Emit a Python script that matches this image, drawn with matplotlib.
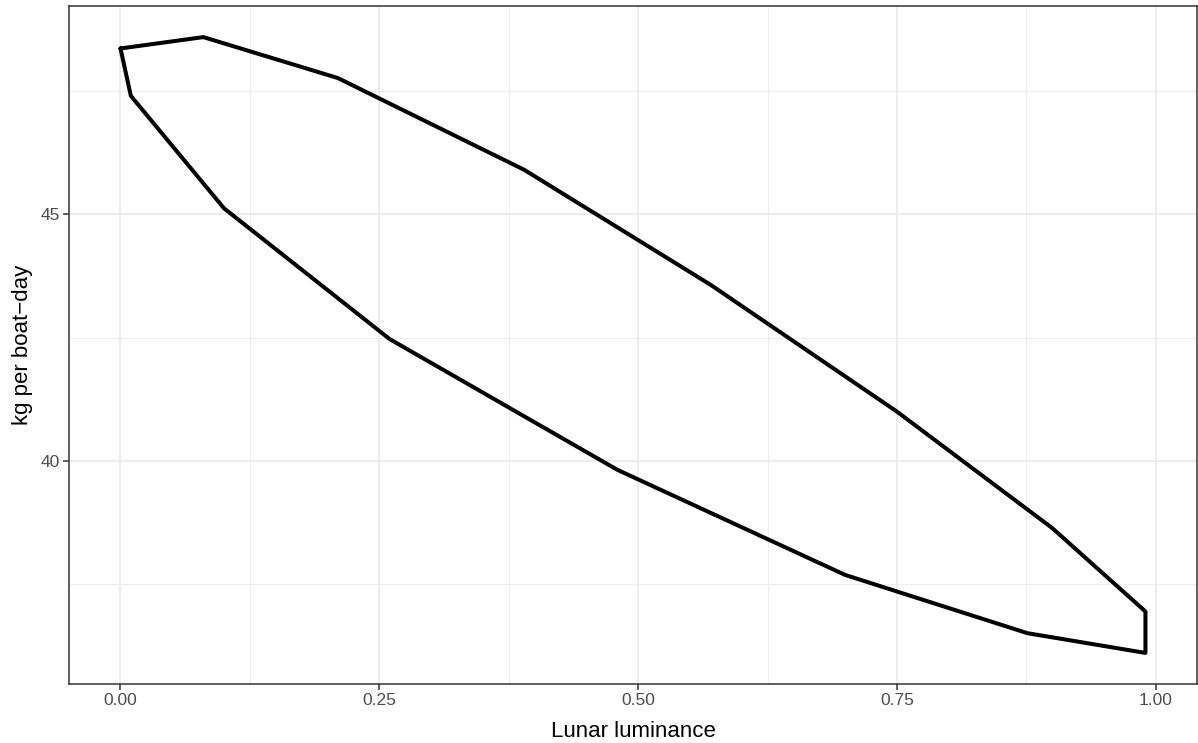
import numpy as np
import matplotlib
matplotlib.use('Agg')
import matplotlib.pyplot as plt
from matplotlib.ticker import FixedLocator

plt.rcParams['font.family'] = ['Liberation Sans', 'DejaVu Sans']

# ── Data: closed outline, upper edge then lower edge back ─────
lunar = [0.00, 0.08, 0.21, 0.39, 0.57, 0.75, 0.90, 0.99,
         0.99, 0.876, 0.70, 0.48, 0.26, 0.10, 0.01, 0.00]
kg_day = [48.36, 48.59, 47.76, 45.90, 43.57, 41.00, 38.64, 36.95,
          36.11, 36.51, 37.69, 39.82, 42.47, 45.12, 47.40, 48.36]

x_ticks = [0.00, 0.25, 0.50, 0.75, 1.00]
x_tick_labels = ['0.00', '0.25', '0.50', '0.75', '1.00']
y_ticks = [40, 45]

# ── Figure ────────────────────────────────────────────────────
fig = plt.figure(figsize=(11.98, 7.43), dpi=100)
ax = fig.add_axes([0.0578, 0.0798, 0.9411, 0.9117])

ax.plot(lunar, kg_day, color='black', linewidth=2.9,
        solid_joinstyle='round', solid_capstyle='round', zorder=3)

ax.margins(x=0.05, y=0.05)

# theme_bw look
ax.set_xticks(x_ticks)
ax.set_xticklabels(x_tick_labels)
ax.set_yticks(y_ticks)
ax.xaxis.set_minor_locator(FixedLocator([0.125, 0.375, 0.625, 0.875]))
ax.yaxis.set_minor_locator(FixedLocator([37.5, 42.5, 47.5]))

ax.grid(True, which='major', color='#EBEBEB', linewidth=1.3, zorder=0)
ax.grid(True, which='minor', color='#EBEBEB', linewidth=0.65, zorder=0)
ax.set_axisbelow(True)

for sp in ax.spines.values():
    sp.set_color('#333333')
    sp.set_linewidth(1.1)

ax.tick_params(which='major', direction='out', length=4, width=1.1,
               color='#333333', labelcolor='#4D4D4D', labelsize=12.5, pad=3)
ax.tick_params(which='minor', length=0)

ax.set_xlabel('Lunar luminance', fontsize=16, color='black', labelpad=9)
ax.set_ylabel('kg per boat\u2212day', fontsize=16, color='black', labelpad=5)

plt.savefig('out.png', dpi=100)
plt.close()
